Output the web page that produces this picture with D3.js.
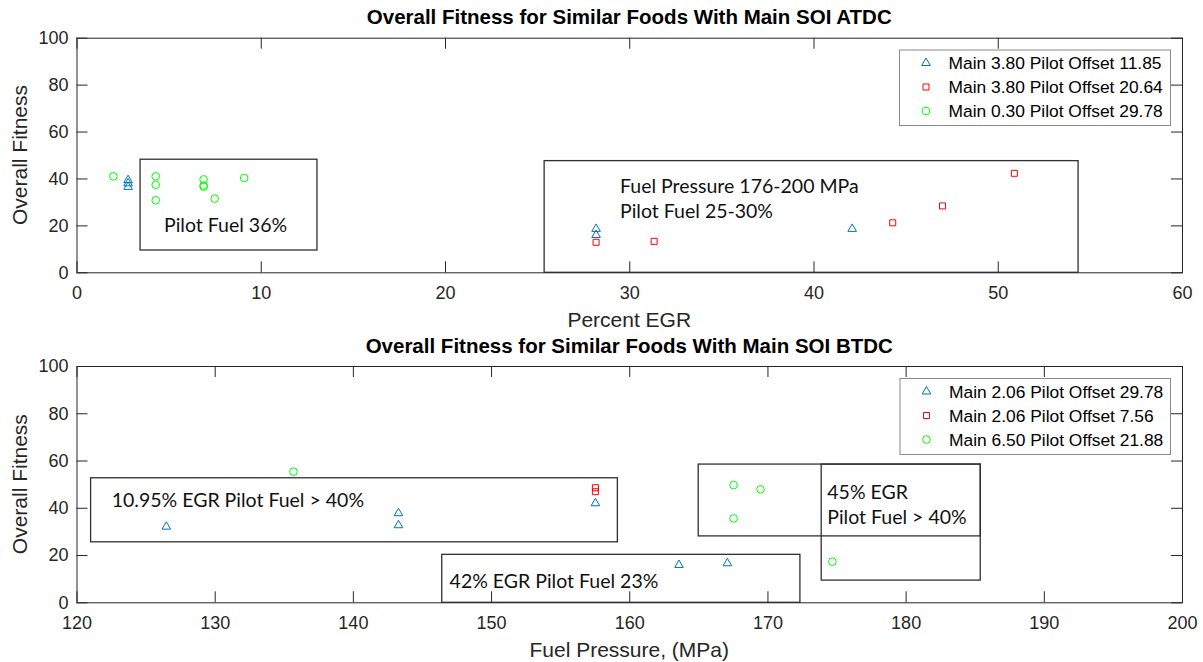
<!DOCTYPE html>
<html>
<head>
<meta charset="utf-8">
<script src="https://cdn.jsdelivr.net/npm/d3@7"></script>
<style>
  body { margin: 0; background: #fff; }
  svg { display: block; }
</style>
</head>
<body>
<svg id="chart" width="1203" height="662"></svg>
<script>
// ---- Upper panel: Main SOI ATDC, fitness vs percent EGR ----
const atdcXTicks = [0, 10, 20, 30, 40, 50, 60];
const atdcLegend = ["Main 3.80 Pilot Offset 11.85", "Main 3.80 Pilot Offset 20.64", "Main 0.30 Pilot Offset 29.78"];
const atdcTriEGR = [2.8, 2.8, 2.8, 28.2, 28.2, 42.1];
const atdcTriFit = [39.3, 37.9, 36.4, 18.5, 15.9, 18.5];
const atdcSqEGR = [28.2, 31.35, 44.3, 47.0, 50.9];
const atdcSqFit = [12.8, 13.2, 21.1, 28.3, 42.2];
const atdcCircEGR = [2.0, 4.3, 4.3, 4.3, 6.9, 6.9, 6.9, 7.5, 9.1];
const atdcCircFit = [40.9, 40.9, 37.3, 30.7, 39.6, 37.0, 36.5, 31.4, 40.2];

// ---- Lower panel: Main SOI BTDC, fitness vs fuel pressure ----
const btdcXTicks = [120, 130, 140, 150, 160, 170, 180, 190, 200];
const btdcLegend = ["Main 2.06 Pilot Offset 29.78", "Main 2.06 Pilot Offset 7.56", "Main 6.50 Pilot Offset 21.88"];
const btdcTriP = [126.5, 143.3, 143.3, 157.55, 163.6, 167.1];
const btdcTriFit = [32.0, 37.7, 32.6, 41.9, 15.8, 16.5];
const btdcSqP = [157.55, 157.55];
const btdcSqFit = [48.5, 46.8];
const btdcCircP = [135.7, 167.55, 169.5, 167.55, 174.7];
const btdcCircFit = [55.3, 49.6, 47.8, 35.5, 17.2];

const yTicks = [0, 20, 40, 60, 80, 100];

// Annotation rectangles and notes, in data units of each panel
const atdcBoxes = [
  { x0: 3.45, x1: 13.05, y0: 9.5, y1: 48.2 },
  { x0: 25.38, x1: 54.36, y0: 0, y1: 47.6 }
];
const atdcNotes = [
  { x: 4.75, y: 17.3, lines: ["Pilot Fuel 36%"] },
  { x: 29.5, y: 33.7, lines: ["Fuel Pressure 176-200 MPa", "Pilot Fuel 25-30%"] }
];
const btdcBoxes = [
  { x0: 121.02, x1: 159.14, y0: 25.6, y1: 52.7 },
  { x0: 146.43, x1: 172.35, y0: 0, y1: 20.3 },
  { x0: 164.99, x1: 185.4, y0: 28.1, y1: 58.5 },
  { x0: 173.89, x1: 185.4, y0: 9.4, y1: 58.5 }
];
const btdcNotes = [
  { x: 122.55, y: 40.5, lines: ["10.95% EGR Pilot Fuel > 40%"] },
  { x: 147.0, y: 5.9, lines: ["42% EGR Pilot Fuel 23%"] },
  { x: 174.33, y: 43.6, lines: ["45% EGR", "Pilot Fuel > 40%"] }
];

const COLORS = { tri: "#0072BD", sq: "#FF0000", circ: "#00FF00" };
const AXIS_COLOR = "#262626";
const AXIS_FONT = "'Liberation Sans', Arial, sans-serif";
const NOTE_FONT = "Lato, 'Open Sans', sans-serif";

const svg = d3.select("#chart");

function markerPath(kind) {
  if (kind === "tri") return d3.symbol().type(d3.symbolTriangle).size(32)();
  if (kind === "sq") return d3.symbol().type(d3.symbolSquare).size(36)();
  return d3.symbol().type(d3.symbolCircle).size(46)();
}

function drawPanel(cfg) {
  const { left, right, top, bottom } = cfg.frame;
  const x = d3.scaleLinear().domain(cfg.xDomain).range([left, right]);
  const y = d3.scaleLinear().domain([0, 100]).range([bottom, top]);
  const g = svg.append("g");
  const tick = 11;

  // bottom axis with inward ticks
  const xb = g.append("g").attr("transform", `translate(0,${bottom})`)
    .call(d3.axisBottom(x).tickValues(cfg.xTicks).tickSizeInner(-tick).tickSizeOuter(0).tickPadding(14));
  // top mirrored ticks
  const xt = g.append("g").attr("transform", `translate(0,${top})`)
    .call(d3.axisTop(x).tickValues(cfg.xTicks).tickSizeInner(-tick).tickSizeOuter(0).tickFormat(""));
  // left axis
  const yl = g.append("g").attr("transform", `translate(${left},0)`)
    .call(d3.axisLeft(y).tickValues(yTicks).tickSizeInner(-tick).tickSizeOuter(0).tickPadding(8));
  // right mirrored ticks
  const yr = g.append("g").attr("transform", `translate(${right},0)`)
    .call(d3.axisRight(y).tickValues(yTicks).tickSizeInner(-tick).tickSizeOuter(0).tickFormat(""));

  [xb, xt, yl, yr].forEach(a => {
    a.select(".domain").remove();
    a.selectAll("line").attr("stroke", AXIS_COLOR);
    a.selectAll("text").attr("fill", AXIS_COLOR)
      .style("font-family", AXIS_FONT).style("font-size", "18px");
  });

  // axes frame
  g.append("rect")
    .attr("x", left + 0.5).attr("y", top + 0.5)
    .attr("width", right - left).attr("height", bottom - top)
    .attr("fill", "none").attr("stroke", AXIS_COLOR).attr("stroke-width", 1);

  // annotation rectangles
  g.selectAll("rect.note").data(cfg.boxes).join("rect")
    .attr("class", "note")
    .attr("x", d => x(d.x0)).attr("y", d => y(d.y1))
    .attr("width", d => x(d.x1) - x(d.x0)).attr("height", d => y(d.y0) - y(d.y1))
    .attr("fill", "none").attr("stroke", "#303030").attr("stroke-width", 1.3);

  // data markers
  const series = [
    { kind: "tri", xs: cfg.tri[0], ys: cfg.tri[1] },
    { kind: "sq", xs: cfg.sq[0], ys: cfg.sq[1] },
    { kind: "circ", xs: cfg.circ[0], ys: cfg.circ[1] }
  ];
  series.forEach(s => {
    g.append("g").selectAll("path").data(s.xs.map((v, i) => [v, s.ys[i]])).join("path")
      .attr("d", markerPath(s.kind))
      .attr("transform", d => `translate(${x(d[0])},${y(d[1])})`)
      .attr("fill", "none").attr("stroke", COLORS[s.kind]).attr("stroke-width", 1);
  });

  // annotation text
  cfg.notes.forEach(n => {
    const t = g.append("text")
      .attr("x", x(n.x)).attr("y", y(n.y))
      .style("font-family", NOTE_FONT).style("font-size", "19.5px").attr("fill", "#111");
    n.lines.forEach((ln, i) => {
      t.append("tspan").attr("x", x(n.x)).attr("dy", i === 0 ? 0 : 25).text(ln);
    });
  });

  // title
  g.append("text")
    .attr("x", (left + right) / 2).attr("y", top - 13.5)
    .attr("text-anchor", "middle")
    .style("font-family", AXIS_FONT).style("font-size", "20.5px").style("font-weight", "bold")
    .attr("fill", "#000").text(cfg.title);

  // axis labels
  g.append("text")
    .attr("x", (left + right) / 2).attr("y", bottom + 55)
    .attr("text-anchor", "middle")
    .style("font-family", AXIS_FONT).style("font-size", "21px")
    .attr("fill", AXIS_COLOR).text(cfg.xLabel);
  g.append("text")
    .attr("transform", `translate(26.7,${(top + bottom) / 2}) rotate(-90)`)
    .attr("text-anchor", "middle")
    .style("font-family", AXIS_FONT).style("font-size", "21px")
    .attr("fill", AXIS_COLOR).text("Overall Fitness");

  // legend
  const lg = g.append("g");
  const L = cfg.legend;
  lg.append("rect")
    .attr("x", L.x + 0.5).attr("y", L.y + 0.5).attr("width", L.w).attr("height", L.h)
    .attr("fill", "#fff").attr("stroke", "#8a8a8a").attr("stroke-width", 1);
  ["tri", "sq", "circ"].forEach((k, i) => {
    const cy = L.y + 13.5 + i * 24;
    lg.append("path").attr("d", markerPath(k))
      .attr("transform", `translate(${L.x + 27},${cy})`)
      .attr("fill", "none").attr("stroke", COLORS[k]).attr("stroke-width", 1);
    lg.append("text").attr("x", L.x + 49.5).attr("y", cy).attr("dy", "0.35em")
      .style("font-family", AXIS_FONT).style("font-size", "17.4px")
      .attr("fill", "#000").text(cfg.legendLabels[i]);
  });
}

drawPanel({
  frame: { left: 76.5, right: 1182, top: 37.7, bottom: 272.3 },
  xDomain: [0, 60], xTicks: atdcXTicks,
  tri: [atdcTriEGR, atdcTriFit], sq: [atdcSqEGR, atdcSqFit], circ: [atdcCircEGR, atdcCircFit],
  boxes: atdcBoxes, notes: atdcNotes,
  title: "Overall Fitness for Similar Foods With Main SOI ATDC",
  xLabel: "Percent EGR",
  legend: { x: 899, y: 49.5, w: 271, h: 75.5 },
  legendLabels: atdcLegend
});

drawPanel({
  frame: { left: 76.5, right: 1182, top: 366, bottom: 602.3 },
  xDomain: [120, 200], xTicks: btdcXTicks,
  tri: [btdcTriP, btdcTriFit], sq: [btdcSqP, btdcSqFit], circ: [btdcCircP, btdcCircFit],
  boxes: btdcBoxes, notes: btdcNotes,
  title: "Overall Fitness for Similar Foods With Main SOI BTDC",
  xLabel: "Fuel Pressure, (MPa)",
  legend: { x: 899.5, y: 378, w: 270.5, h: 76 },
  legendLabels: btdcLegend
});
</script>
</body>
</html>
